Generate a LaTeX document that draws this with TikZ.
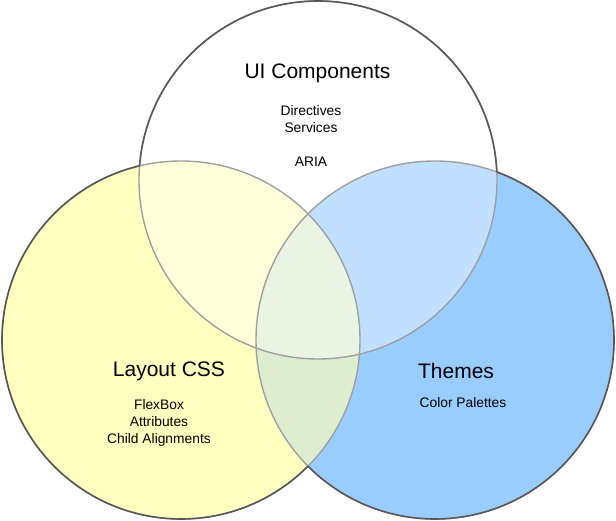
\documentclass[tikz,border=0pt]{standalone}
\usepackage{fontspec}
\setmainfont{Liberation Sans}
\definecolor{csscol}{RGB}{255,255,192}
\definecolor{themecol}{RGB}{153,204,255}
\definecolor{mixcol}{RGB}{220,237,208}
\definecolor{rimdark}{RGB}{88,88,88}
\definecolor{rimlight}{RGB}{160,160,160}
\begin{document}
\begin{tikzpicture}[x=1pt,y=-1pt,
  title/.style={font=\fontsize{21}{24}\selectfont},
  items/.style={font=\fontsize{13.8}{17}\selectfont, align=center},
  rim/.style={line width=1.6pt, draw=rimdark},
  innerrim/.style={line width=1.4pt, draw=rimlight}]
\useasboundingbox (0,0) rectangle (616,521);
\coordinate (ui) at (318,180);
\coordinate (css) at (181,340);
\coordinate (thm) at (435,340);
% fills
\fill[csscol] (css) circle (179pt);
\fill[themecol] (thm) circle (179pt);
\begin{scope}
  \clip (css) circle (179pt);
  \fill[mixcol] (thm) circle (179pt);
\end{scope}
\fill[white, fill opacity=0.4] (ui) circle (179pt);
% rims inside the overlaps
\draw[innerrim] (css) circle (179pt) (thm) circle (179pt) (ui) circle (179pt);
% outer rims
\begin{scope}[even odd rule]
  \clip (0,0) rectangle (616,521) (thm) circle (179pt);
  \clip (0,0) rectangle (616,521) (ui) circle (179pt);
  \draw[rim] (css) circle (179pt);
\end{scope}
\begin{scope}[even odd rule]
  \clip (0,0) rectangle (616,521) (css) circle (179pt);
  \clip (0,0) rectangle (616,521) (ui) circle (179pt);
  \draw[rim] (thm) circle (179pt);
\end{scope}
\begin{scope}[even odd rule]
  \clip (0,0) rectangle (616,521) (css) circle (179pt);
  \clip (0,0) rectangle (616,521) (thm) circle (179pt);
  \draw[rim] (ui) circle (179pt);
\end{scope}
% labels
\node[title] (uititle) at (317.5,73.5) {UI Components};
\node[items] (uiitems) at (311,136.5) {Directives\\Services\\[17pt]ARIA};
\node[title] (csstitle) at (169,371.5) {Layout CSS};
\node[items] (cssitems) at (159,423) {FlexBox\\Attributes\\Child Alignments};
\node[title] (thmtitle) at (456,370.5) {Themes};
\node[items] (thmitems) at (463,402.5) {Color Palettes};
\end{tikzpicture}
\end{document}
